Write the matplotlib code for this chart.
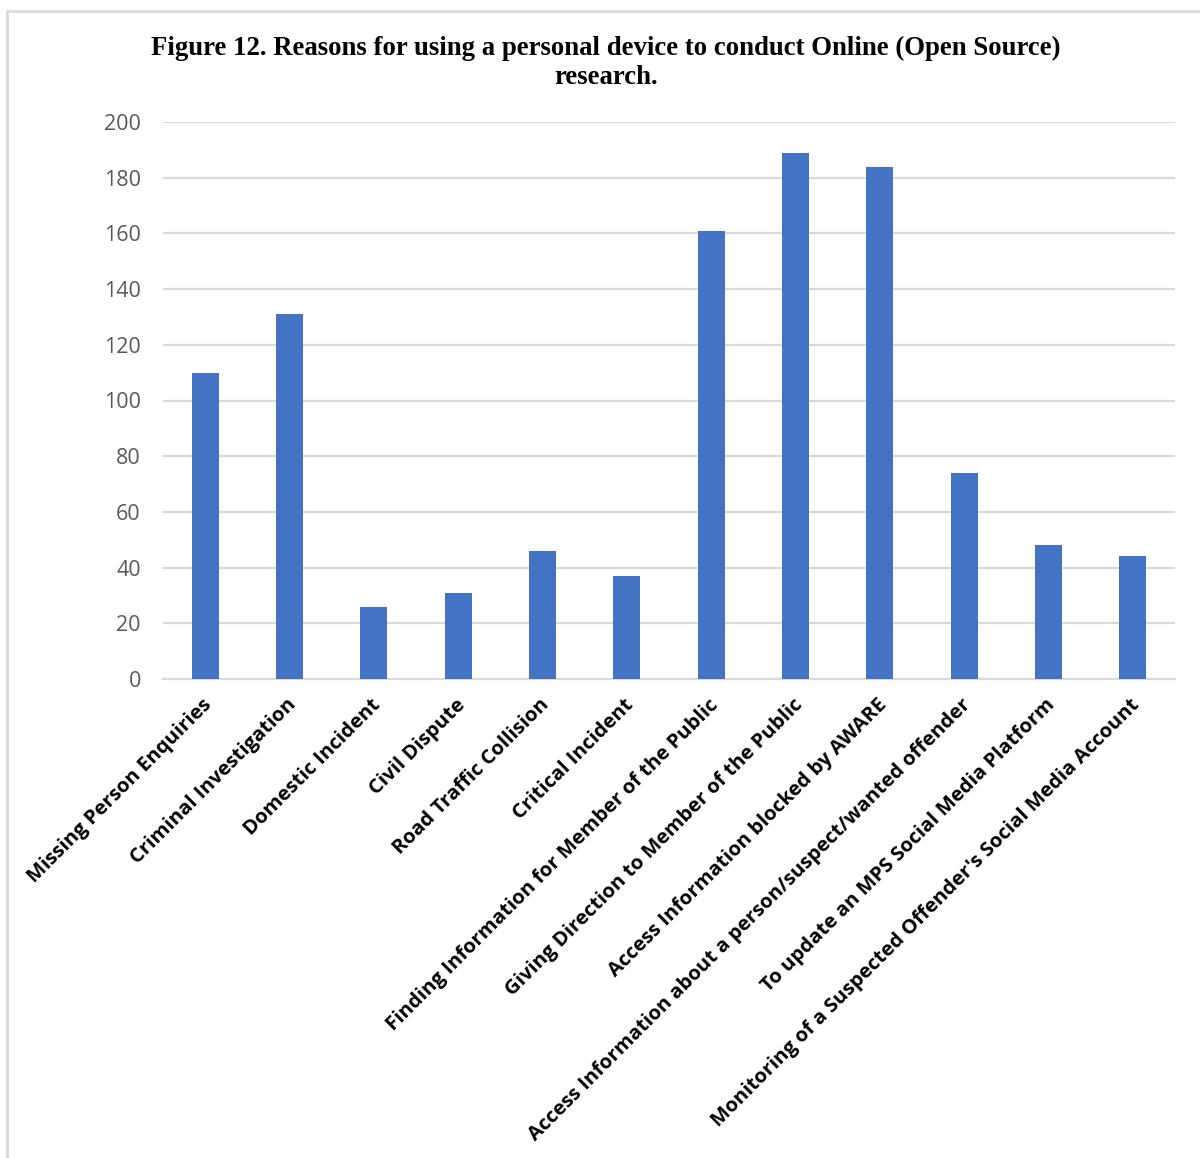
import matplotlib.pyplot as plt
from matplotlib.patches import Rectangle
from matplotlib.transforms import ScaledTranslation

reasons = [
    "Missing Person Enquiries",
    "Criminal Investigation",
    "Domestic Incident",
    "Civil Dispute",
    "Road Traffic Collision",
    "Critical Incident",
    "Finding Information for Member of the Public",
    "Giving Direction to Member of the Public",
    "Access Information blocked by AWARE",
    "Access Information about a person/suspect/wanted offender",
    "To update an MPS Social Media Platform",
    "Monitoring of a Suspected Offender's Social Media Account",
]
counts = [110, 131, 26, 31, 46, 37, 161, 189, 184, 74, 48, 44]
y_ticks = [0, 20, 40, 60, 80, 100, 120, 140, 160, 180, 200]

W, H = 1200, 1158
fig = plt.figure(figsize=(W / 100, H / 100), dpi=100)

# frame around the chart area (runs off the right and bottom edge)
fig.patches.append(Rectangle((7 / W, -0.05), 1.1, 1 - 11 / H + 0.05,
                             transform=fig.transFigure, fill=False,
                             edgecolor="#d9d9d9", linewidth=2))

ax = fig.add_axes([163 / W, 1 - 679 / H, (1175 - 163) / W, (679 - 122) / H])
x = list(range(len(reasons)))
ax.bar(x, counts, width=0.32, color="#4472C4", zorder=3)

ax.set_xlim(-0.5, len(reasons) - 0.5)
ax.set_ylim(0, 200)
ax.set_yticks(y_ticks)
ax.set_yticklabels([str(v) for v in y_ticks], fontfamily="Open Sans",
                   fontsize=15.5, color="#595959")
ax.tick_params(axis="y", length=0, pad=16)
ax.tick_params(axis="x", length=0, pad=13)
ax.yaxis.grid(True, color="#d9d9d9", linewidth=1.6, zorder=0)
for side in ["top", "right", "left"]:
    ax.spines[side].set_visible(False)
ax.spines["bottom"].set_color("#d9d9d9")
ax.spines["bottom"].set_linewidth(1.6)

ax.set_xticks(x)
ax.set_xticklabels(reasons, rotation=45, ha="right", va="center",
                   rotation_mode="anchor", fontfamily="Open Sans",
                   fontweight="bold", fontsize=14.6, color="black")
# nudge the slanted labels a little right and down
shift = ScaledTranslation(4 / 100, -5 / 100, fig.dpi_scale_trans)
for lbl in ax.get_xticklabels():
    lbl.set_transform(lbl.get_transform() + shift)

fig.text(606 / W, 1 - 63 / H,
         "Figure 12. Reasons for using a personal device to conduct Online (Open Source)\nresearch.",
         ha="center", va="center", fontfamily="Liberation Serif",
         fontweight="bold", fontsize=19.3, linespacing=1.2)

fig.savefig("out.png", dpi=100, facecolor="white")
